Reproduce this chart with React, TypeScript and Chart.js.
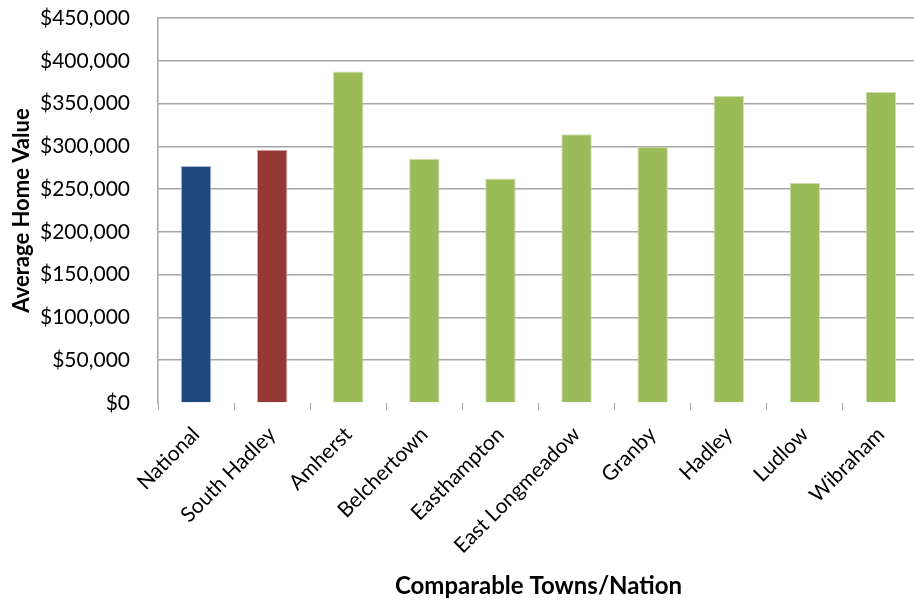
import React, { useEffect, useRef } from "react";
import { Chart, registerables } from "chart.js";

Chart.register(...registerables);

const categories = [
  "National",
  "South Hadley",
  "Amherst",
  "Belchertown",
  "Easthampton",
  "East Longmeadow",
  "Granby",
  "Hadley",
  "Ludlow",
  "Wibraham",
];
const homeValues = [277000, 296000, 387500, 285500, 262500, 314000, 299500, 359000, 257000, 363500];
const barColors = ["#1F497D", "#953735", "#9BBB59", "#9BBB59", "#9BBB59", "#9BBB59", "#9BBB59", "#9BBB59", "#9BBB59", "#9BBB59"];
const barEdges = ["#A9BCD6", "#D9A9A8", "#CFE0B0", "#CFE0B0", "#CFE0B0", "#CFE0B0", "#CFE0B0", "#CFE0B0", "#CFE0B0", "#CFE0B0"];
const yTitle = "Average Home Value";
const xTitle = "Comparable Towns/Nation";

const FONT = "Lato, 'Liberation Sans', sans-serif";
const GRID = "#A6A6A6";

export default function App() {
  const ref = useRef<HTMLCanvasElement | null>(null);
  useEffect(() => {
    if (!ref.current) return;
    const chart = new Chart(ref.current, {
      type: "bar",
      data: {
        labels: categories,
        datasets: [
          {
            data: homeValues,
            backgroundColor: barColors,
            borderColor: barEdges,
            borderWidth: 1,
            barPercentage: 0.4,
            categoryPercentage: 1,
          },
        ],
      },
      options: {
        animation: false,
        responsive: true,
        maintainAspectRatio: false,
        layout: { padding: { top: 18, right: 0, left: 0, bottom: 0 } },
        plugins: { legend: { display: false }, tooltip: { enabled: false } },
        scales: {
          x: {
            offset: true,
            grid: {
              offset: true,
              drawOnChartArea: false,
              drawTicks: true,
              tickLength: 7,
              color: GRID,
            },
            border: { display: false },
            ticks: {
              minRotation: 45,
              maxRotation: 45,
              autoSkip: false,
              padding: 12,
              color: "#000",
              font: { family: FONT, size: 21 },
            },
            title: {
              display: true,
              text: xTitle,
              color: "#000",
              font: { family: FONT, size: 24, weight: "bold" },
              padding: { top: 0, bottom: 0 },
            },
            afterFit: (s: any) => {
              s.height = 198;
              s.paddingTop = 0;
              s.paddingLeft = 0;
              s.paddingRight = 0;
            },
          },
          y: {
            min: 0,
            max: 450000,
            grid: {
              drawTicks: false,
              color: (c: any) => (c.tick && c.tick.value === 0 ? "rgba(0,0,0,0)" : GRID),
              lineWidth: 1.5,
            },
            border: { display: true, color: GRID, width: 1.5 },
            ticks: {
              stepSize: 50000,
              padding: 28,
              color: "#000",
              font: { family: FONT, size: 21 },
              callback: (v: any) => "$" + Number(v).toLocaleString("en-US"),
            },
            title: {
              display: true,
              text: yTitle,
              color: "#000",
              font: { family: FONT, size: 22, weight: "bold" },
              padding: { top: 9, bottom: 0 },
            },
            afterFit: (s: any) => {
              s.width = 158;
              s.paddingTop = 0;
              s.paddingBottom = 0;
            },
          },
        },
      },
    });
    return () => chart.destroy();
  }, []);
  return (
    <div style={{ position: "fixed", left: 0, top: 0, width: 919, height: 601, background: "#fff" }}>
      <canvas ref={ref} />
    </div>
  );
}
